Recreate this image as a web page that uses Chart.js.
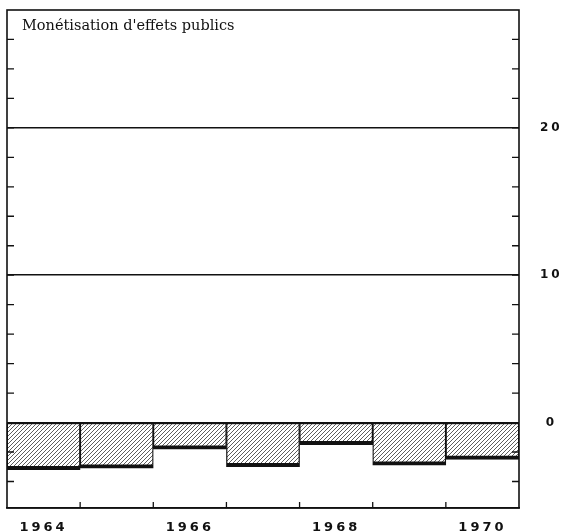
<!DOCTYPE html>
<html>
<head>
<meta charset="utf-8">
<script src="https://cdn.jsdelivr.net/npm/chart.js@4"></script>
<style>
  html, body { margin: 0; padding: 0; background: #fff; }
  #wrap { width: 581px; height: 532px; }
</style>
</head>
<body>
<div id="wrap"><canvas id="myChart" width="581" height="532"></canvas></div>
<script>
// years shown as one bar each
const years = ['1964', '1965', '1966', '1967', '1968', '1969', '1970'];
const yearLabels = ['1964', '', '1966', '', '1968', '', '1970'];
// monetisation of public securities, %
const values = [-3.2, -3.1, -1.8, -3.0, -1.5, -2.9, -2.5];
const yTickLabels = ['0', '10', '20'];
const title = "Monétisation d'effets publics";

// hatched fill like the printed figure
const makeHatch = () => {
  const c = document.createElement('canvas');
  c.width = 4; c.height = 4;
  const p = c.getContext('2d');
  p.fillStyle = '#fff';
  p.fillRect(0, 0, 4, 4);
  p.strokeStyle = '#333';
  p.lineWidth = 0.8;
  p.beginPath();
  p.moveTo(0, 4); p.lineTo(4, 0);
  p.moveTo(-1, 1); p.lineTo(1, -1);
  p.moveTo(3, 5); p.lineTo(5, 3);
  p.stroke();
  return p.createPattern(c, 'repeat');
};

// wide spaced digits for the axis labels
const spacingPlugin = {
  id: 'spacing',
  beforeDraw(chart) { chart.ctx.letterSpacing = '3px'; },
  afterDatasetsDraw(chart) { chart.ctx.letterSpacing = '0px'; },
};

// frame, inward ticks and the title
const framePlugin = {
  id: 'frame',
  afterDraw(chart) {
    const { ctx, chartArea: a, scales } = chart;
    const y = scales.y;
    ctx.save();
    ctx.letterSpacing = '0px';
    ctx.strokeStyle = '#111';
    ctx.lineWidth = 1.6;
    ctx.strokeRect(a.left, a.top, a.right - a.left, a.bottom - a.top);
    ctx.lineWidth = 1.3;
    ctx.beginPath();
    for (let v = -4; v <= 26; v += 2) {
      const py = y.getPixelForValue(v);
      ctx.moveTo(a.left, py); ctx.lineTo(a.left + 7, py);
      ctx.moveTo(a.right, py); ctx.lineTo(a.right - 7, py);
    }
    const x = scales.x;
    for (let i = 0; i < years.length - 1; i++) {
      const px = (x.getPixelForValue(i) + x.getPixelForValue(i + 1)) / 2;
      ctx.moveTo(px, a.bottom); ctx.lineTo(px, a.bottom - 6);
    }
    ctx.stroke();
    ctx.fillStyle = '#111';
    ctx.font = '14.5px "DejaVu Serif"';
    ctx.textBaseline = 'middle';
    ctx.fillText(title, a.left + 15, a.top + 16);
    ctx.restore();
  }
};

const ctx = document.getElementById('myChart').getContext('2d');
new Chart(ctx, {
  type: 'bar',
  data: {
    labels: years,
    datasets: [{
      data: values,
      backgroundColor: makeHatch(),
      borderColor: '#111',
      borderWidth: { top: 1, left: 1.3, right: 1.3, bottom: 4 },
      borderSkipped: false,
      barPercentage: 1,
      categoryPercentage: 1,
    }],
  },
  options: {
    responsive: false,
    animation: false,
    layout: { padding: { left: 7, top: 10, right: 0, bottom: 0 } },
    plugins: { legend: { display: false }, tooltip: { enabled: false } },
    scales: {
      x: {
        grid: { display: false },
        border: { display: true, color: '#111', width: 1.6 },
        afterFit: (s) => { s.height = 24; s.paddingLeft = 0; s.paddingRight = 0; },
        ticks: {
          padding: 4,
          maxRotation: 0,
          autoSkip: false,
          color: '#111',
          font: { family: 'DejaVu Sans', size: 13, weight: 'bold' },
          callback: (v, i) => yearLabels[i],
        },
      },
      y: {
        position: 'right',
        min: -5.8,
        max: 28,
        afterFit: (s) => { s.width = 62; s.paddingTop = 0; s.paddingBottom = 0; },
        border: { display: false },
        grid: {
          drawTicks: false,
          lineWidth: (c) => (c.tick && c.tick.value === 0 ? 2 : 1.5),
          color: (c) => (c.tick && [0, 10, 20].includes(c.tick.value) ? '#111' : 'rgba(0,0,0,0)'),
        },
        ticks: {
          stepSize: 2,
          padding: 24,
          crossAlign: 'center',
          color: '#111',
          font: { family: 'DejaVu Sans', size: 12, weight: 'bold' },
          callback: (v) => (yTickLabels.includes(String(v)) ? String(v) : ''),
        },
      },
    },
  },
  plugins: [spacingPlugin, framePlugin],
});
</script>
</body>
</html>
